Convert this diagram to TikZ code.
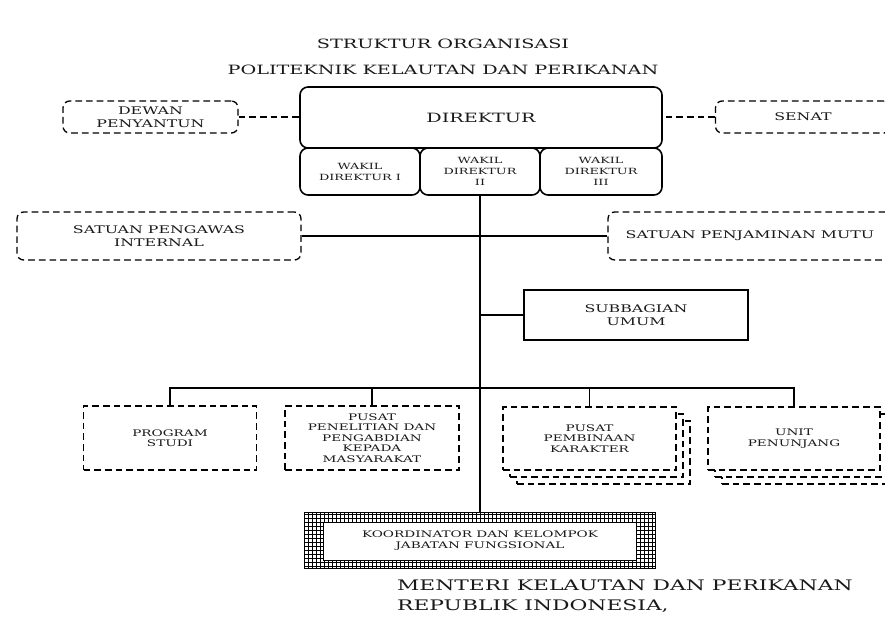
\documentclass[tikz,border=0pt]{standalone}
\usepackage{fontspec}
\setmainfont{DejaVu Serif}[FakeStretch=1.5]
\usetikzlibrary{patterns,shadows}

\begin{document}
\begin{tikzpicture}[x=0.75pt,y=-0.75pt,line width=1pt,text=black!90,
dashpat/.style={dash pattern=on 5pt off 3pt},
dashbox/.style={draw,dashpat,align=center,inner sep=0pt,fill=white},
roundbox/.style={dashbox,rounded corners=5pt},
solidbox/.style={draw,rounded corners=6pt,align=center,inner sep=0pt,line width=1.2pt},
stackbox/.style={dashbox,
  copy shadow={shadow xshift=10.5pt,shadow yshift=-10.5pt,dashpat},
  copy shadow={shadow xshift=5.25pt,shadow yshift=-5.25pt,dashpat}},
tiny/.style={font=\fontsize{6.4}{8.2}\selectfont},
small/.style={font=\fontsize{6.8}{7.9}\selectfont},
mid/.style={font=\fontsize{7.9}{9.5}\selectfont},
big/.style={font=\fontsize{9.6}{12}\selectfont}]
\useasboundingbox (0,0) rectangle (885,618);

% judul
\node[big] (judul1) at (443,44) {STRUKTUR ORGANISASI};
\node[big] (judul2) at (443,70) {POLITEKNIK KELAUTAN DAN PERIKANAN};

% pimpinan
\node[solidbox,minimum width=271.5pt,minimum height=45.75pt,big] (dir) at (481,117.5) {DIREKTUR};
\node[solidbox,minimum width=90pt,minimum height=35.25pt,tiny] (wk1) at (360,171.5) {WAKIL\\DIREKTUR I};
\node[solidbox,minimum width=90pt,minimum height=35.25pt,tiny] (wk2) at (480,171.5) {WAKIL\\DIREKTUR\\II};
\node[solidbox,minimum width=91.5pt,minimum height=35.25pt,tiny] (wk3) at (601,171.5) {WAKIL\\DIREKTUR\\III};

\node[roundbox,minimum width=131.25pt,minimum height=24pt,mid] (dewan) at (150.5,117) {DEWAN\\PENYANTUN};
\node[roundbox,minimum width=131.25pt,minimum height=24pt,mid] (senat) at (803,117) {SENAT};
\draw[dashpat] (dewan.east) -- (dewan.east -| dir.west);
\draw[dashpat] (senat.west) -- (senat.west -| dir.east);

\node[roundbox,minimum width=213pt,minimum height=36pt,mid] (spi) at (159,236) {SATUAN PENGAWAS\\INTERNAL};
\node[roundbox,minimum width=213pt,minimum height=36pt,mid] (spm) at (750,236) {SATUAN PENJAMINAN MUTU};

% koordinator
\node[minimum width=262.5pt,minimum height=41.25pt,align=center,small] (koord) at (480,540.5) {KOORDINATOR DAN KELOMPOK\\JABATAN FUNGSIONAL};
\fill[pattern=grid,even odd rule] (koord.south west) rectangle (koord.north east)
  ([shift={(19,-8)}]koord.south west) rectangle ([shift={(-19,10)}]koord.north east);
\draw (koord.south west) rectangle (koord.north east);
\draw (koord.south west) ++(19,-8) rectangle ([shift={(-19,10)}]koord.north east);

\draw (spi) -- (spm);
\draw (wk2.south) -- (koord.north);

\node[draw,minimum width=168pt,minimum height=37.5pt,align=center,mid] (subbag) at (636,315) {SUBBAGIAN\\UMUM};
\draw (subbag.west) -- (subbag.west -| wk2.south);

% unit di bawah
\node[dashbox,minimum width=129.75pt,minimum height=48pt,small] (prodi) at (170,438) {PROGRAM\\STUDI};
\node[dashbox,minimum width=130.5pt,minimum height=48pt,small] (p3m) at (372,438) {PUSAT\\PENELITIAN DAN\\PENGABDIAN\\KEPADA\\MASYARAKAT};
\node[stackbox,minimum width=129.75pt,minimum height=47.25pt,small] (pembinaan) at (589.5,438.5) {PUSAT\\PEMBINAAN\\KARAKTER};
\node[stackbox,minimum width=129pt,minimum height=47.25pt,small] (unit) at (794,438.5) {UNIT\\PENUNJANG};

\coordinate (bar) at (480,388);
\draw (prodi.north) |- (bar) -| (unit.north);
\draw (p3m.north) -- (p3m.north |- bar);
\draw (pembinaan.north) -- (pembinaan.north |- bar);

% penutup
\node[anchor=west,font=\fontsize{10.9}{14}\selectfont] (menteri) at (392,585) {MENTERI KELAUTAN DAN PERIKANAN};
\node[anchor=west,font=\fontsize{10.9}{14}\selectfont] (ri) at (392,606) {REPUBLIK INDONESIA,};
\end{tikzpicture}
\end{document}
